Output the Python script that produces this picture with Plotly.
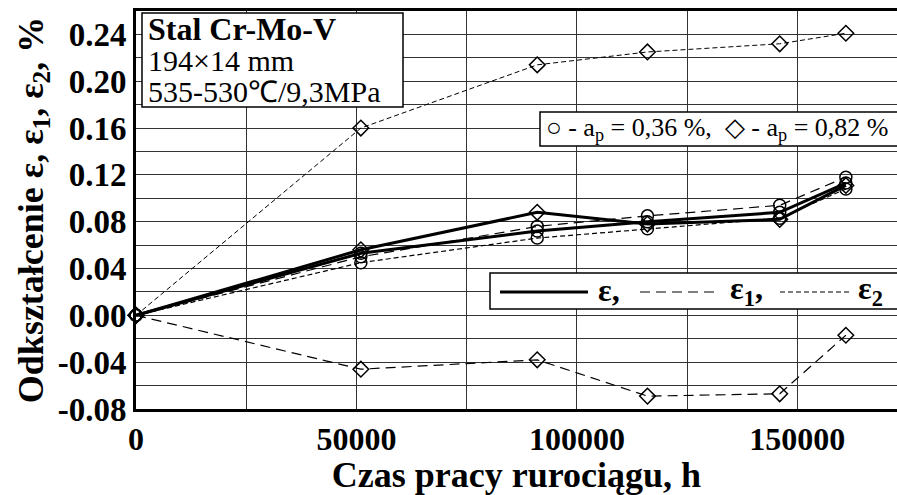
import plotly.graph_objects as go

# Operating time of the pipeline, h
czas = [0, 51000, 91000, 116000, 146000, 161000]

# a_p = 0,36 %  (circles)
eps_c = [0.0, 0.053, 0.072, 0.080, 0.088, 0.113]
eps1_c = [0.0, 0.050, 0.076, 0.085, 0.094, 0.118]
eps2_c = [0.0, 0.045, 0.066, 0.074, 0.083, 0.108]

# a_p = 0,82 %  (diamonds)
eps_d = [0.0, 0.056, 0.088, 0.078, 0.082, 0.111]
eps1_d = [0.0, -0.046, -0.038, -0.069, -0.067, -0.017]
eps2_d = [0.0, 0.160, 0.214, 0.225, 0.232, 0.241]

x_ticks = [0, 50000, 100000, 150000]
y_ticks = [-0.08, -0.04, 0.00, 0.04, 0.08, 0.12, 0.16, 0.20, 0.24]

FONT = "Liberation Serif, Times New Roman, serif"
DASH_LONG = "10px,6px"
DASH_SHORT = "5px,3px"

series = [
    (eps2_d, "diamond-open", DASH_SHORT, 1.0),
    (eps1_d, "diamond-open", DASH_LONG, 1.2),
    (eps2_c, "circle-open", DASH_SHORT, 1.2),
    (eps1_c, "circle-open", DASH_LONG, 1.2),
    (eps_c, "circle-open", "solid", 3.0),
    (eps_d, "diamond-open", "solid", 3.0),
]

fig = go.Figure()
for vals, sym, dash, lw in series:
    fig.add_trace(go.Scatter(
        x=czas, y=vals, mode="lines+markers",
        line=dict(color="black", width=lw, dash=dash),
        marker=dict(symbol=sym, size=12, color="black",
                    line=dict(color="black", width=1.5)),
        showlegend=False, cliponaxis=False,
    ))

fig.update_xaxes(
    range=[0, 172600],
    tickvals=x_ticks, ticktext=[str(v) for v in x_ticks],
    tickfont=dict(family=FONT, size=32, color="black", weight="bold"),
    showgrid=True, gridcolor="#333", gridwidth=1,
    minor=dict(tick0=0, dtick=25000, showgrid=True, gridcolor="#333", gridwidth=1),
    showline=True, linecolor="black", linewidth=3, mirror=True,
    ticks="", zeroline=False,
    title=dict(text="Czas pracy rurociągu, h", standoff=10,
               font=dict(family=FONT, size=36, color="black", weight="bold")),
)
fig.update_yaxes(
    range=[-0.08, 0.26],
    tickvals=y_ticks, ticktext=[f"{v:.2f}" for v in y_ticks],
    tickfont=dict(family=FONT, size=33, color="black", weight="bold"),
    showgrid=True, gridcolor="#333", gridwidth=1,
    minor=dict(tick0=0, dtick=0.02, showgrid=True, gridcolor="#333", gridwidth=1),
    showline=True, linecolor="black", linewidth=3,
    ticks="", zeroline=False,
    title=dict(text="Odkształcenie ε, ε<sub>1</sub>, ε<sub>2</sub>, %", standoff=4,
               font=dict(family=FONT, size=36, color="black", weight="bold")),
)

W, H = 897, 495
L, R, T, B = 136, 0, 11, 86
pw, ph = W - L - R, H - T - B


def px(x):
    return (x - L) / pw


def py(y):
    return (H - B - y) / ph


shapes = []
annotations = []

# Material description box
shapes.append(dict(type="rect", xref="paper", yref="paper",
                   x0=px(142), x1=px(403), y0=py(107), y1=py(13),
                   line=dict(color="black", width=1.5), fillcolor="white", layer="above"))
for i, (txt, bold, size) in enumerate([("Stal Cr-Mo-V", True, 32), ("194×14 mm", False, 30),
                                       ("535-530℃/9,3MPa", False, 30)]):
    annotations.append(dict(xref="paper", yref="paper", x=px(146), y=py(29 + 31 * i),
                            xanchor="left", yanchor="middle", showarrow=False, text=txt,
                            font=dict(family=FONT, size=size, color="black",
                                      weight="bold" if bold else "normal")))

# Marker key box
shapes.append(dict(type="rect", xref="paper", yref="paper",
                   x0=px(540), x1=px(899), y0=py(146), y1=py(112),
                   line=dict(color="black", width=1.5), fillcolor="white", layer="above"))
annotations.append(dict(xref="paper", yref="paper", x=px(544), y=py(129),
                        xanchor="left", yanchor="middle", showarrow=False,
                        text="○ - a<sub>p</sub> = 0,36 %,  ◇ - a<sub>p</sub> = 0,82 %",
                        font=dict(family=FONT, size=26, color="black")))

# Line style key box
shapes.append(dict(type="rect", xref="paper", yref="paper",
                   x0=px(490), x1=px(899), y0=py(309), y1=py(273),
                   line=dict(color="black", width=1.5), fillcolor="white", layer="above"))
for (x0, x1, dash, lw, lab, lx) in [(500, 588, "solid", 3, "ε,", 596),
                                    (640, 720, DASH_LONG, 1.2, "ε<sub>1</sub>,", 728),
                                    (780, 850, DASH_SHORT, 1.2, "ε<sub>2</sub>", 856)]:
    shapes.append(dict(type="line", xref="paper", yref="paper",
                       x0=px(x0), x1=px(x1), y0=py(292), y1=py(292),
                       line=dict(color="black", width=lw, dash=dash), layer="above"))
    annotations.append(dict(xref="paper", yref="paper", x=px(lx), y=py(290),
                            xanchor="left", yanchor="middle", showarrow=False, text=lab,
                            font=dict(family=FONT, size=32, color="black", weight="bold")))

fig.update_layout(
    width=W, height=H,
    margin=dict(l=L, r=R, t=T, b=B, autoexpand=False),
    paper_bgcolor="white", plot_bgcolor="white",
    shapes=shapes, annotations=annotations,
    font=dict(family=FONT, color="black"),
)

fig.write_html("out.html")
